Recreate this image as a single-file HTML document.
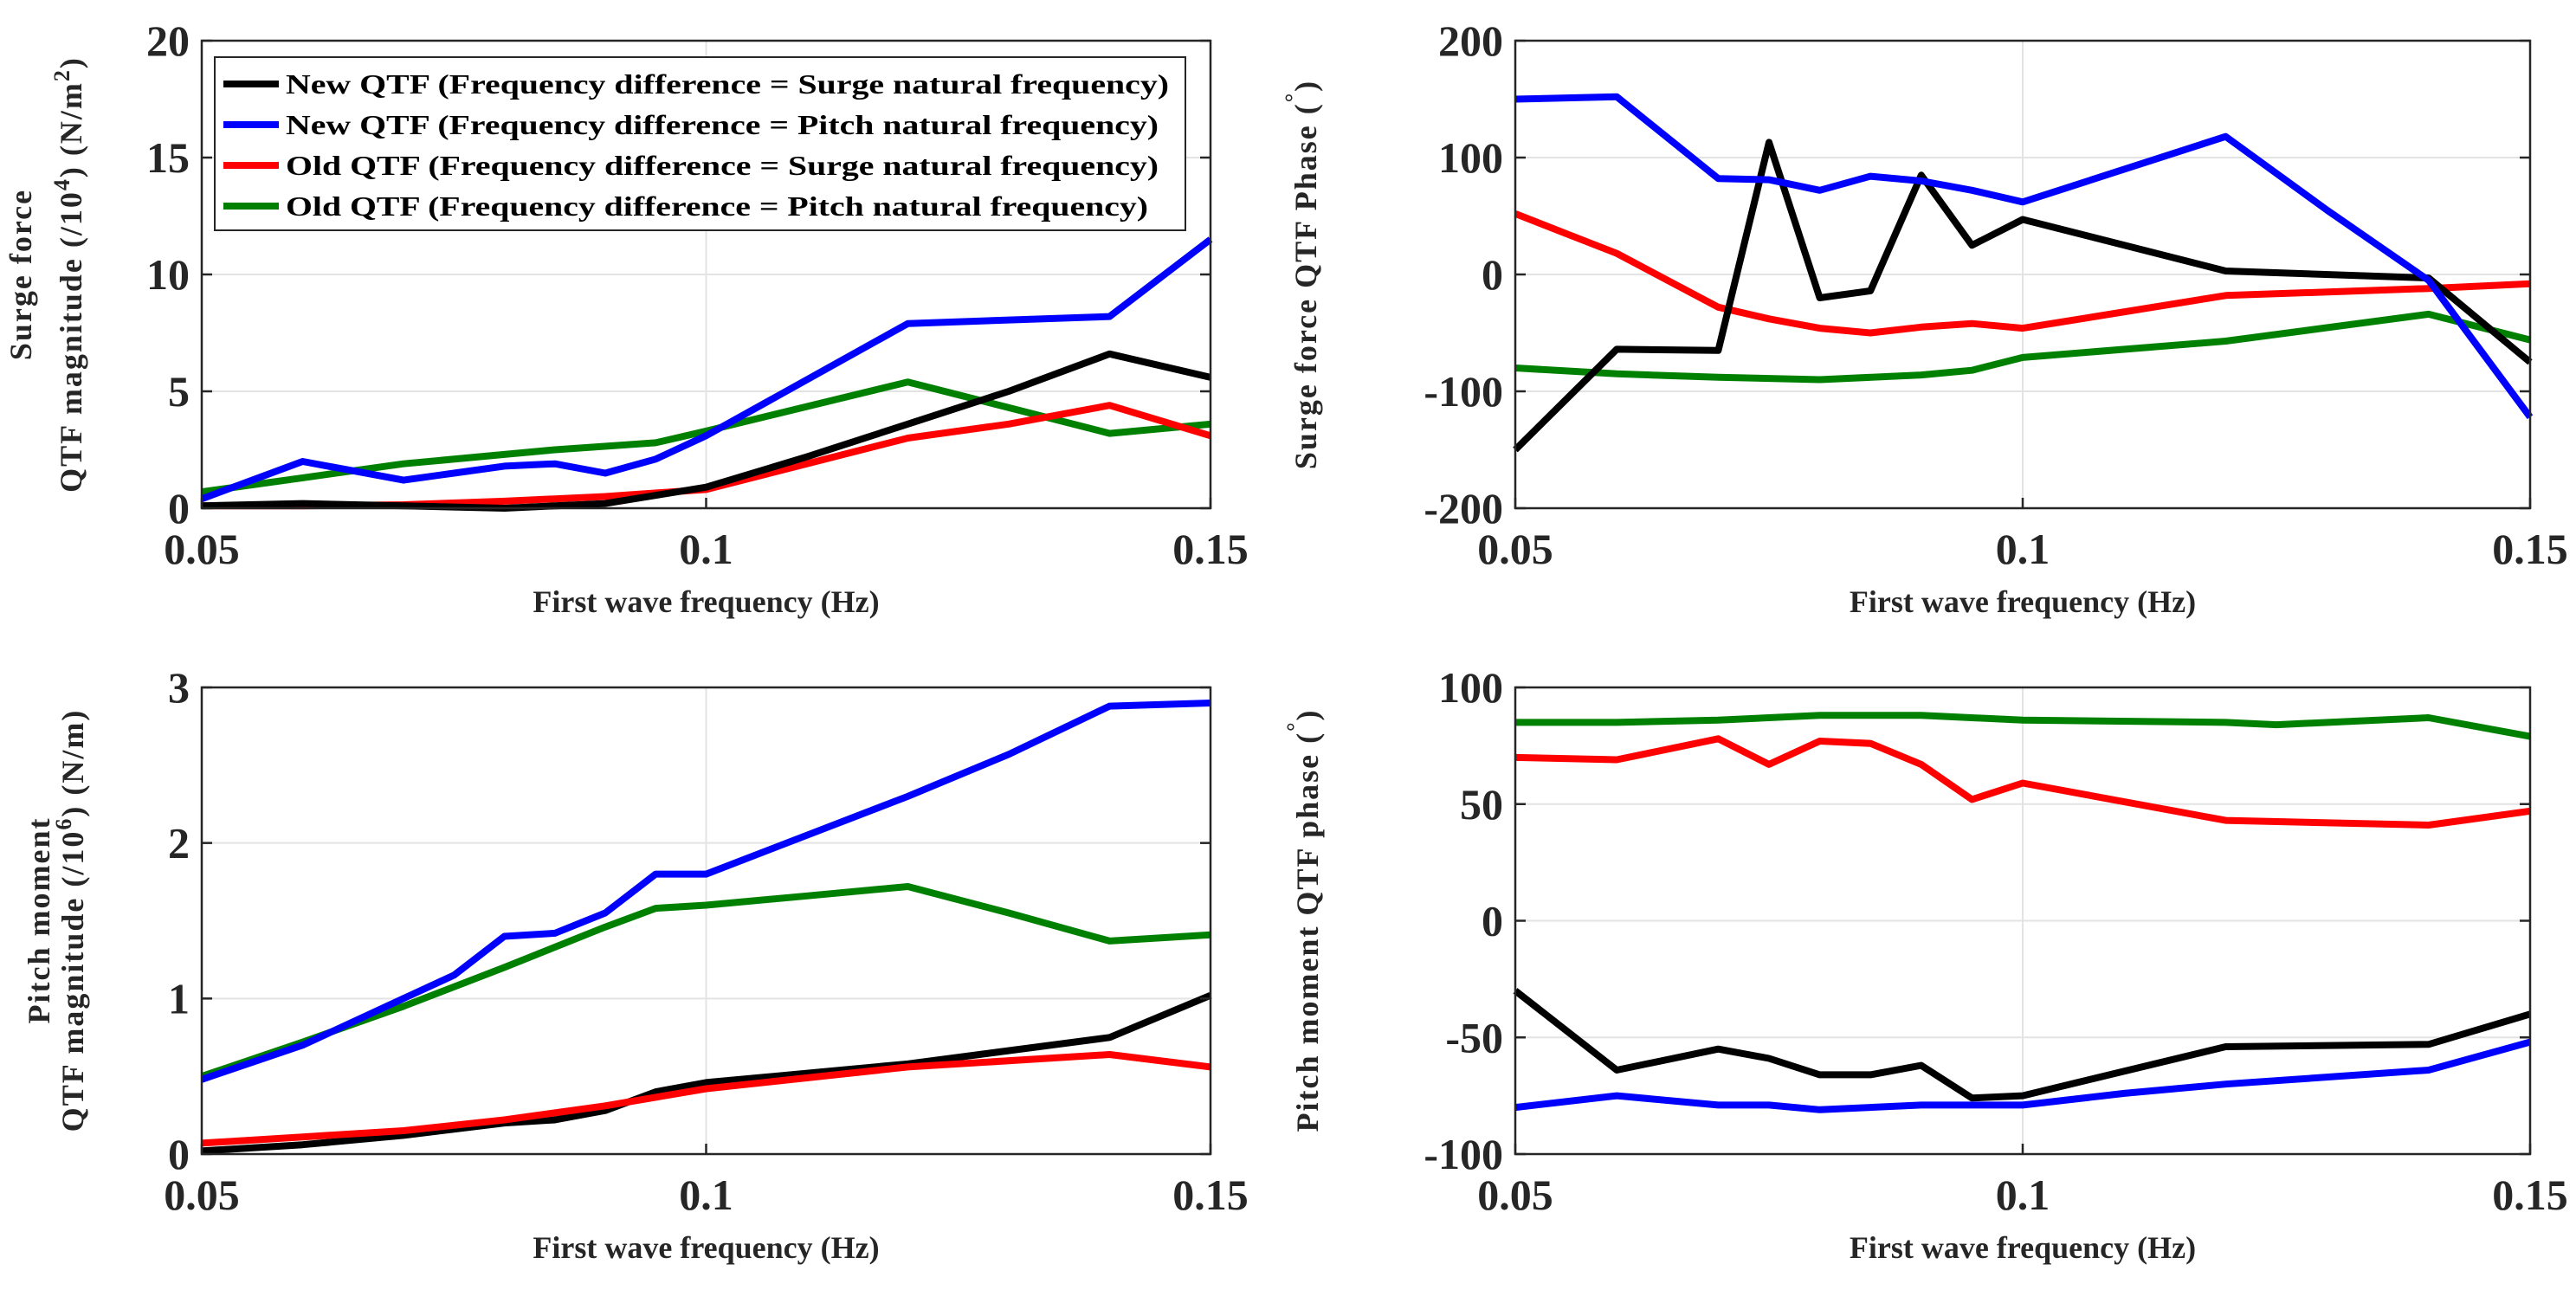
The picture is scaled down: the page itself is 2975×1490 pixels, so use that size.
<!DOCTYPE html>
<html><head><meta charset="utf-8">
<style>
html,body{margin:0;padding:0;background:#fff;}
svg{display:block;font-family:"Liberation Serif",serif;font-weight:bold;}
</style></head>
<body>
<svg id="fig" width="2975" height="1490" viewBox="0 0 2975 1490" xmlns="http://www.w3.org/2000/svg">
<rect width="2975" height="1490" fill="#fff"/>
</svg>
<script>
// shared x values (Hz)
const xTicks = [0.05, 0.1, 0.15];
const xTickLabels = ["0.05", "0.1", "0.15"];

// Panel 1: surge force magnitude
const p1BlackX = [0.05,0.06,0.07,0.08,0.09,0.1,0.11,0.12,0.13,0.14,0.15];
const p1BlackY = [0.1,0.2,0.1,0.0,0.2,0.9,2.2,3.6,5.0,6.6,5.6];
const p1BlueX = [0.05,0.06,0.07,0.075,0.08,0.085,0.09,0.095,0.1,0.12,0.14,0.15];
const p1BlueY = [0.4,2.0,1.2,1.5,1.8,1.9,1.5,2.1,3.1,7.9,8.2,11.5];
const p1RedX = [0.05,0.06,0.07,0.08,0.09,0.1,0.12,0.13,0.14,0.15];
const p1RedY = [0.1,0.1,0.15,0.3,0.5,0.8,3.0,3.6,4.4,3.1];
const p1GreenX = [0.05,0.06,0.07,0.08,0.085,0.095,0.1,0.12,0.14,0.15];
const p1GreenY = [0.7,1.3,1.9,2.3,2.5,2.8,3.3,5.4,3.2,3.6];
const p1YTicks = [0,5,10,15,20];

// Panel 2: surge force phase
const p2BlackX = [0.05,0.06,0.07,0.075,0.08,0.085,0.09,0.095,0.1,0.12,0.14,0.15];
const p2BlackY = [-150,-64,-65,113,-20,-14,85,25,47,3,-3,-75];
const p2BlueX = [0.05,0.06,0.07,0.075,0.08,0.085,0.09,0.095,0.1,0.12,0.13,0.14,0.15];
const p2BlueY = [150,152,82,81,72,84,80,72,62,118,55,-5,-122];
const p2RedX = [0.05,0.055,0.06,0.07,0.075,0.08,0.085,0.09,0.095,0.1,0.12,0.14,0.15];
const p2RedY = [52,35,18,-28,-38,-46,-50,-45,-42,-46,-18,-12,-8];
const p2GreenX = [0.05,0.06,0.07,0.08,0.09,0.095,0.1,0.12,0.14,0.15];
const p2GreenY = [-80,-85,-88,-90,-86,-82,-71,-57,-34,-56];
const p2YTicks = [-200,-100,0,100,200];

// Panel 3: pitch moment magnitude
const p3BlueX = [0.05,0.06,0.07,0.075,0.08,0.085,0.09,0.095,0.1,0.11,0.12,0.13,0.14,0.15];
const p3BlueY = [0.48,0.7,1.0,1.15,1.4,1.42,1.55,1.8,1.8,2.05,2.3,2.57,2.88,2.9];
const p3GreenX = [0.05,0.06,0.07,0.08,0.09,0.095,0.1,0.11,0.12,0.13,0.14,0.15];
const p3GreenY = [0.5,0.72,0.95,1.2,1.46,1.58,1.6,1.66,1.72,1.55,1.37,1.41];
const p3BlackX = [0.05,0.06,0.07,0.08,0.085,0.09,0.095,0.1,0.12,0.14,0.15];
const p3BlackY = [0.02,0.06,0.12,0.2,0.22,0.28,0.4,0.46,0.58,0.75,1.02];
const p3RedX = [0.05,0.06,0.07,0.08,0.09,0.1,0.12,0.14,0.15];
const p3RedY = [0.07,0.11,0.15,0.22,0.31,0.42,0.56,0.64,0.56];
const p3YTicks = [0,1,2,3];

// Panel 4: pitch moment phase
const p4GreenX = [0.05,0.06,0.07,0.08,0.09,0.1,0.12,0.125,0.14,0.15];
const p4GreenY = [85,85,86,88,88,86,85,84,87,79];
const p4RedX = [0.05,0.06,0.07,0.075,0.08,0.085,0.09,0.095,0.1,0.12,0.14,0.15];
const p4RedY = [70,69,78,67,77,76,67,52,59,43,41,47];
const p4BlackX = [0.05,0.06,0.07,0.075,0.08,0.085,0.09,0.095,0.1,0.12,0.14,0.15];
const p4BlackY = [-30,-64,-55,-59,-66,-66,-62,-76,-75,-54,-53,-40];
const p4BlueX = [0.05,0.06,0.07,0.075,0.08,0.09,0.1,0.11,0.12,0.14,0.15];
const p4BlueY = [-80,-75,-79,-79,-81,-79,-79,-74,-70,-64,-52];
const p4YTicks = [-100,-50,0,50,100];

const legendLabels = [
 "New QTF (Frequency difference = Surge natural frequency)",
 "New QTF (Frequency difference = Pitch natural frequency)",
 "Old QTF (Frequency difference = Surge natural frequency)",
 "Old QTF (Frequency difference = Pitch natural frequency)"];
const legendColors = ["#000000","#0000ff","#ff0000","#008000"];

const NS = "http://www.w3.org/2000/svg";
const svg = document.getElementById("fig");
function mk(tag, attrs, parent, text){
  const e = document.createElementNS(NS, tag);
  for (const k in attrs) e.setAttribute(k, attrs[k]);
  if (text !== undefined) e.textContent = text;
  (parent||svg).appendChild(e);
  return e;
}

function panel(id, L, R, T, B, ymin, ymax, yticks, series){
  const g = mk("g", {});
  
  
  const sx = v => L + (v - 0.05) / 0.1 * (R - L);
  const sy = v => B - (v - ymin) / (ymax - ymin) * (B - T);
  xTicks.forEach(t => {
    const l = mk("line", {x1:sx(t), x2:sx(t), y1:T, y2:B, stroke:"#e3e3e3", "stroke-width":2}, g);
    
    
  });
  yticks.forEach(t => {
    const l = mk("line", {x1:L, x2:R, y1:sy(t), y2:sy(t), stroke:"#e3e3e3", "stroke-width":2}, g);
    
    
  });
  series.forEach(s => {
    const pts = s.x.map((v,i) => sx(v).toFixed(1) + "," + sy(s.y[i]).toFixed(1)).join(" ");
    const p = mk("polyline", {points:pts, fill:"none", stroke:s.c, "stroke-width":8, "stroke-linejoin":"round", "stroke-linecap":"butt"}, g);
    
    
  });
  const box = mk("rect", {x:L, y:T, width:R-L, height:B-T, fill:"none", stroke:"#262626", "stroke-width":2.5}, g);
  
  
  yticks.forEach(t => {
    mk("line", {x1:L, x2:L+12, y1:sy(t), y2:sy(t), stroke:"#262626", "stroke-width":2.5}, g);
    mk("line", {x1:R, x2:R-12, y1:sy(t), y2:sy(t), stroke:"#262626", "stroke-width":2.5}, g);
    const tl = mk("text", {x:L-14, y:sy(t)+17, "text-anchor":"end", "font-size":50, fill:"#262626"}, g, String(t));
    
    
  });
  xTicks.forEach((t,i) => {
    mk("line", {x1:sx(t), x2:sx(t), y1:B, y2:B-12, stroke:"#262626", "stroke-width":2.5}, g);
    const tl = mk("text", {x:sx(t), y:B+64, "text-anchor":"middle", "font-size":50, fill:"#262626"}, g, xTickLabels[i]);
    
    
  });
  const xl = mk("text", {x:(L+R)/2, y:B+120, "text-anchor":"middle", "font-size":36, fill:"#262626"}, g, "First wave frequency (Hz)");
  
  
  return {g, sx, sy};
}

const lw = 1398, lL = 233, rL = 1750, rR = 2922;
const tT = 47, tB = 587, bT = 794, bB = 1333;

panel("surge-magnitude-panel", lL, lw, tT, tB, 0, 20, p1YTicks, [
  {x:p1GreenX,y:p1GreenY,c:"#008000",n:"old-pitch-line"},
  {x:p1RedX,y:p1RedY,c:"#ff0000",n:"old-surge-line"},
  {x:p1BlueX,y:p1BlueY,c:"#0000ff",n:"new-pitch-line"},
  {x:p1BlackX,y:p1BlackY,c:"#000000",n:"new-surge-line"}]);
panel("surge-phase-panel", rL, rR, tT, tB, -200, 200, p2YTicks, [
  {x:p2GreenX,y:p2GreenY,c:"#008000",n:"old-pitch-line"},
  {x:p2RedX,y:p2RedY,c:"#ff0000",n:"old-surge-line"},
  {x:p2BlackX,y:p2BlackY,c:"#000000",n:"new-surge-line"},
  {x:p2BlueX,y:p2BlueY,c:"#0000ff",n:"new-pitch-line"}]);
panel("pitch-magnitude-panel", lL, lw, bT, bB, 0, 3, p3YTicks, [
  {x:p3GreenX,y:p3GreenY,c:"#008000",n:"old-pitch-line"},
  {x:p3BlueX,y:p3BlueY,c:"#0000ff",n:"new-pitch-line"},
  {x:p3BlackX,y:p3BlackY,c:"#000000",n:"new-surge-line"},
  {x:p3RedX,y:p3RedY,c:"#ff0000",n:"old-surge-line"}]);
panel("pitch-phase-panel", rL, rR, bT, bB, -100, 100, p4YTicks, [
  {x:p4GreenX,y:p4GreenY,c:"#008000",n:"old-pitch-line"},
  {x:p4RedX,y:p4RedY,c:"#ff0000",n:"old-surge-line"},
  {x:p4BlackX,y:p4BlackY,c:"#000000",n:"new-surge-line"},
  {x:p4BlueX,y:p4BlueY,c:"#0000ff",n:"new-pitch-line"}]);

function ytitle(x, y, txt, name){
  const t = mk("text", {transform:`translate(${x},${y}) rotate(-90)`, "text-anchor":"middle", "font-size":36, fill:"#262626", "letter-spacing":"2"});
  t.innerHTML = txt;
  
  
}
ytitle(36, 317, "Surge force", "y-axis-title-line1");
ytitle(94, 317, "QTF magnitude (/10<tspan dy='-14' font-size='26'>4</tspan><tspan dy='14'>) (N/m</tspan><tspan dy='-14' font-size='26'>2</tspan><tspan dy='14'>)</tspan>", "y-axis-title-line2");
ytitle(1520, 317, "Surge force QTF Phase (<tspan dy='-18' font-size='26'>°</tspan><tspan dy='18'>)</tspan>", "y-axis-title");
ytitle(57, 1063, "Pitch moment", "y-axis-title-line1");
ytitle(96, 1063, "QTF magnitude (/10<tspan dy='-14' font-size='26'>6</tspan><tspan dy='14'>) (N/m)</tspan>", "y-axis-title-line2");
ytitle(1522, 1063, "Pitch moment QTF phase (<tspan dy='-18' font-size='26'>°</tspan><tspan dy='18'>)</tspan>", "y-axis-title");

const lg = mk("g", {});


mk("rect", {x:248, y:66, width:1121, height:200, fill:"#fff", stroke:"#262626", "stroke-width":2}, lg);
legendLabels.forEach((lab, i) => {
  const y = 97 + i * 47;
  const ln = mk("line", {x1:258, x2:322, y1:y, y2:y, stroke:legendColors[i], "stroke-width":8}, lg);
  
  
  const t = mk("text", {x:330, y:y+11, "font-size":32, fill:"#000", textLength:1020 - (i%2)*12 - (i>=2?12:0), lengthAdjust:"spacingAndGlyphs"}, lg, lab);
  
  
});
</script>
</body></html>
